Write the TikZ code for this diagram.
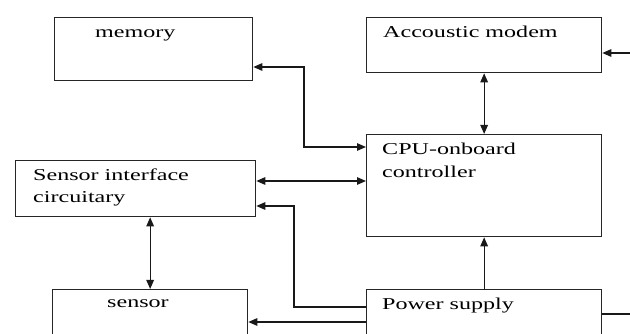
\documentclass[tikz,border=0pt]{standalone}
\usepackage{fontspec}
\setmainfont{Liberation Serif}
\usetikzlibrary{arrows.meta}
\newcommand{\wtxt}[1]{\scalebox{1.45}[1]{#1}}
\tikzset{
  blk/.style={draw=black!85, line width=1.3pt, anchor=north west, inner sep=0pt, minimum width=#1},
  txt/.style={anchor=base west, inner sep=0pt, text=black, font=\fontsize{16.6}{20}\selectfont},
  conn/.style={draw=black!90, line width=1.2pt},
  tip/.tip={Triangle[length=9pt,width=7.5pt]}
}
\begin{document}
\begin{tikzpicture}[x=1pt,y=-1pt]
\useasboundingbox (0,0) rectangle (630,334);
% boxes
\node[blk=198pt, minimum height=63pt] (mem) at (54,17) {};
\node[blk=235pt, minimum height=55pt] (modem) at (366,17) {};
\node[blk=235pt, minimum height=102pt] (cpu) at (366,134) {};
\node[blk=240pt, minimum height=56pt] (sif) at (15,160) {};
\node[blk=195pt, minimum height=60pt] (sensor) at (52,289) {};
\node[blk=235pt, minimum height=60pt] (power) at (366,289) {};
% texts
\node[txt] (memt) at (95,38) {\wtxt{memory}};
\node[txt] (modemt) at (383,38) {\wtxt{Accoustic modem}};
\node[txt] (cput1) at (382,155) {\wtxt{CPU-onboard}};
\node[txt] (cput2) at (382,178) {\wtxt{controller}};
\node[txt] (sift1) at (33,181) {\wtxt{Sensor interface}};
\node[txt] (sift2) at (33,203) {\wtxt{circuitary}};
\node[txt] (sensort) at (107,308) {\wtxt{sensor}};
\node[txt] (powert) at (382,309) {\wtxt{Power supply}};
% helper coordinates
\coordinate (inM) at (630,53);
\coordinate (a1) at (304,67);
\coordinate (a2) at (304,147);
\coordinate (b) at (300,181);
\coordinate (c1) at (294,206);
\coordinate (c2) at (294,307);
\coordinate (d) at (300,322);
\coordinate (outP) at (630,314);
% connectors
\draw[conn,-tip] (inM) -- (inM -| modem.east);
\draw[conn,tip-tip] (modem.south) -- (cpu.north);
\draw[conn,tip-tip] (a1 -| mem.east) -- (a1) -- (a2) -- (a2 -| cpu.west);
\draw[conn,tip-tip] (b -| sif.east) -- (b -| cpu.west);
\draw[conn,-tip] (c2 -| power.west) -- (c2) -- (c1) -- (c1 -| sif.east);
\draw[conn,-tip] (d -| power.west) -- (d -| sensor.east);
\draw[conn,tip-tip] (sif.south -| sensor.north) -- (sensor.north);
\draw[conn,-tip] (power.north) -- (cpu.south);
\draw[conn] (outP -| power.east) -- (outP);
\end{tikzpicture}
\end{document}
